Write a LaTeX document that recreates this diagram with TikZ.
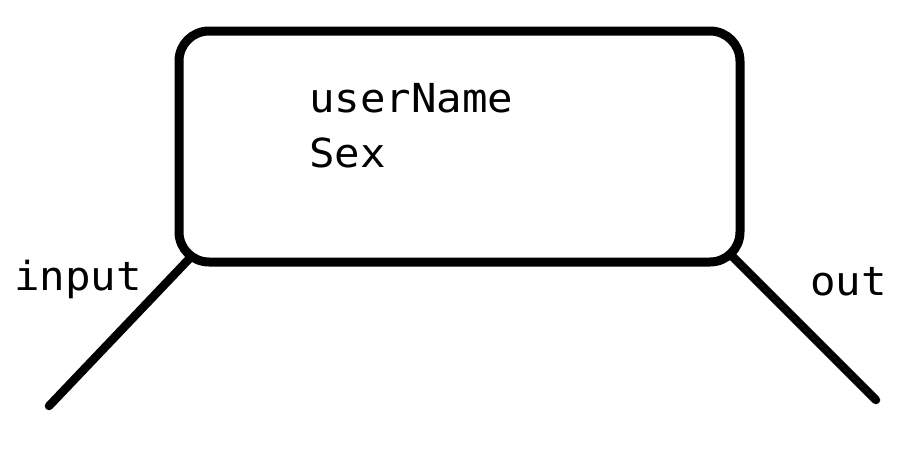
\documentclass[tikz,border=0pt]{standalone}
\usepackage{fontspec}
\setmonofont[FakeStretch=1.06]{DejaVu Sans Mono}
\begin{document}
\begin{tikzpicture}[x=1pt,y=-1pt,
  thick line/.style={line width=8.5pt, line cap=round},
  lbl/.style={font=\ttfamily\fontsize{40}{46}\selectfont, inner sep=0pt, anchor=base west}]
\useasboundingbox (0,0) rectangle (906,458);
\node[draw, line width=9pt, rounded corners=30pt, inner sep=0pt, outer sep=0pt,
      minimum width=561pt, minimum height=231pt] (box) at (459.5,146.5) {};
\node[lbl] (user) at (309,112) {userName};
\node[lbl] (sex) at (309,167) {Sex};
\node[lbl] (inlbl) at (14,290) {input};
\node[lbl] (outlbl) at (810,295) {out};
\coordinate (inTop) at (189,259);
\coordinate (inEnd) at (49,406);
\coordinate (outTop) at (732,256);
\coordinate (outEnd) at (876,400);
\draw[thick line] (inTop) -- (inEnd);
\draw[thick line] (outTop) -- (outEnd);
\end{tikzpicture}
\end{document}
